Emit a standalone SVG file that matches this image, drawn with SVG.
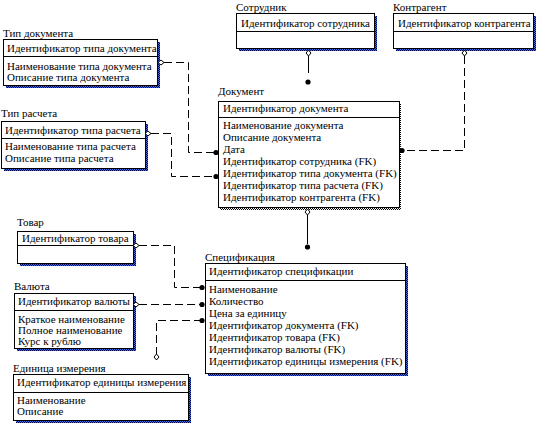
<svg xmlns="http://www.w3.org/2000/svg" xmlns:xlink="http://www.w3.org/1999/xlink" width="536" height="424" viewBox="0 0 536 424" font-family="'Liberation Serif', 'Times New Roman', 'DejaVu Serif', serif" font-size="11">
<defs>
<pattern id="sb" width="2" height="2" patternUnits="userSpaceOnUse">
<rect width="2" height="2" fill="#3a6ee8"/>
<rect width="1" height="1" fill="#000050"/>
<rect x="1" y="1" width="1" height="1" fill="#000050"/>
</pattern>
<pattern id="sg" width="2" height="2" patternUnits="userSpaceOnUse">
<rect width="2" height="2" fill="#ffffff"/>
<rect width="1" height="1" fill="#000000"/>
<rect x="1" y="1" width="1" height="1" fill="#000000"/>
</pattern>
<path id="dh" d="M-3,0 L0,-2.5 L3,0 L0,2.5 Z" fill="#fff" stroke="#000" stroke-width="1"/>
<path id="dv" d="M0,-3 L2.5,0 L0,3 L-2.5,0 Z" fill="#fff" stroke="#000" stroke-width="1"/>
<circle id="dot" r="2.6" fill="#000"/>
</defs>
<style>
text{font-family:'Liberation Serif','Times New Roman','DejaVu Serif',serif;font-size:11px;fill:#000}
.box{fill:#fff;stroke:#000;stroke-width:1}
.div{stroke:#000;stroke-width:1}
.sh{fill:url(#sb)}
.shg{fill:url(#sg)}
.c{fill:none;stroke:#000;stroke-width:1}
.d{stroke-dasharray:8,4}
</style>
<rect width="536" height="424" fill="#fff"/>

<g id="tip-dokumenta">
<text x="3" y="37">Тип документа</text>
<rect class="sh" x="6" y="42" width="154" height="46"/>
<rect class="box" x="3.5" y="39.5" width="154" height="46"/>
<line class="div" x1="3.5" y1="56.5" x2="157.5" y2="56.5"/>
<text x="7" y="52">Идентификатор типа документа</text>
<text x="7" y="70">Наименование типа документа</text>
<text x="7" y="81">Описание типа документа</text>
</g>

<g id="sotrudnik">
<text x="236" y="11">Сотрудник</text>
<rect class="sh" x="239" y="16" width="138" height="35"/>
<rect class="box" x="236.5" y="13.5" width="138" height="35"/>
<line class="div" x1="236.5" y1="31.5" x2="374.5" y2="31.5"/>
<text x="241" y="27">Идентификатор сотрудника</text>
</g>

<g id="kontragent">
<text x="393" y="11">Контрагент</text>
<rect class="sh" x="396" y="16" width="140" height="35"/>
<rect class="box" x="393.5" y="13.5" width="140" height="35"/>
<line class="div" x1="393.5" y1="31.5" x2="533.5" y2="31.5"/>
<text x="398" y="27">Идентификатор контрагента</text>
</g>

<g id="tip-rascheta">
<text x="1" y="117">Тип расчета</text>
<rect class="sh" x="4" y="124" width="144" height="47"/>
<rect class="box" x="1.5" y="121.5" width="144" height="47"/>
<line class="div" x1="1.5" y1="138.5" x2="145.5" y2="138.5"/>
<text x="5" y="134">Идентификатор типа расчета</text>
<text x="5" y="150">Наименование типа расчета</text>
<text x="5" y="162">Описание типа расчета</text>
</g>

<g id="dokument">
<text x="218" y="95">Документ</text>
<rect class="shg" x="220" y="104" width="181" height="106"/>
<rect class="box" x="218.5" y="101.5" width="181" height="106"/>
<line class="div" x1="218.5" y1="117.5" x2="399.5" y2="117.5"/>
<text x="223" y="112">Идентификатор документа</text>
<text x="223" y="129">Наименование документа</text>
<text x="223" y="141">Описание документа</text>
<text x="223" y="153">Дата</text>
<text x="223" y="165">Идентификатор сотрудника (FK)</text>
<text x="223" y="177">Идентификатор типа документа (FK)</text>
<text x="223" y="189">Идентификатор типа расчета (FK)</text>
<text x="223" y="201">Идентификатор контрагента (FK)</text>
</g>

<g id="tovar">
<text x="17" y="226">Товар</text>
<rect class="sh" x="20" y="234" width="116" height="32"/>
<rect class="box" x="17.5" y="231.5" width="116" height="32"/>
<line class="div" x1="17.5" y1="245.5" x2="133.5" y2="245.5"/>
<text x="22" y="242">Идентификатор товара</text>
</g>

<g id="valyuta">
<text x="14" y="290">Валюта</text>
<rect class="sh" x="17" y="296" width="119" height="55"/>
<rect class="box" x="14.5" y="293.5" width="119" height="55"/>
<line class="div" x1="14.5" y1="310.5" x2="133.5" y2="310.5"/>
<text x="18" y="305">Идентификатор валюты</text>
<text x="18" y="323">Краткое наименование</text>
<text x="18" y="334">Полное наименование</text>
<text x="18" y="345">Курс к рублю</text>
</g>

<g id="specifikaciya">
<text x="205" y="261">Спецификация</text>
<rect class="sh" x="208" y="266" width="200" height="110"/>
<rect class="box" x="205.5" y="263.5" width="200" height="110"/>
<line class="div" x1="205.5" y1="280.5" x2="405.5" y2="280.5"/>
<text x="209" y="275">Идентификатор спецификации</text>
<text x="209" y="293">Наименование</text>
<text x="209" y="305">Количество</text>
<text x="209" y="317">Цена за единицу</text>
<text x="209" y="329">Идентификатор документа (FK)</text>
<text x="209" y="341">Идентификатор товара (FK)</text>
<text x="209" y="353">Идентификатор валюты (FK)</text>
<text x="209" y="365">Идентификатор единицы измерения (FK)</text>
</g>

<g id="edinica">
<text x="13" y="372">Единица измерения</text>
<rect class="sh" x="16" y="377" width="175" height="46"/>
<rect class="box" x="13.5" y="374.5" width="175" height="46"/>
<line class="div" x1="13.5" y1="392.5" x2="188.5" y2="392.5"/>
<text x="17" y="386">Идентификатор единицы измерения</text>
<text x="17" y="404">Наименование</text>
<text x="17" y="415">Описание</text>
</g>

<g id="connectors">
<path class="c d" d="M164,62.5 H188.5 V152.5 H214"/>
<use xlink:href="#dh" x="161" y="62.5"/>
<use xlink:href="#dot" x="216" y="152.5"/>

<path class="c d" d="M151,133.5 H171.5 V176.5 H214"/>
<use xlink:href="#dh" x="148" y="133.5"/>
<use xlink:href="#dot" x="216" y="176.5"/>

<path class="c" d="M308.5,56 V73"/>
<use xlink:href="#dv" x="308.5" y="53"/>
<use xlink:href="#dot" x="308" y="82"/>

<path class="c d" d="M464.5,56 V150.5 H404"/>
<use xlink:href="#dv" x="464.5" y="53"/>
<use xlink:href="#dot" x="402" y="150.5"/>

<path class="c" d="M307.5,215 V244"/>
<use xlink:href="#dv" x="307.5" y="212"/>
<use xlink:href="#dot" x="307.5" y="247"/>

<path class="c d" d="M139,245.5 H174.5 V287.5 H200"/>
<use xlink:href="#dh" x="136" y="245.5"/>
<use xlink:href="#dot" x="202" y="287.5"/>

<path class="c d" d="M139,304.5 H200"/>
<use xlink:href="#dh" x="136" y="304.5"/>
<use xlink:href="#dot" x="202" y="304.5"/>

<path class="c d" d="M156.5,355 V320.5 H200"/>
<use xlink:href="#dv" x="156.5" y="357"/>
<use xlink:href="#dot" x="202" y="320.5"/>
</g>
</svg>
